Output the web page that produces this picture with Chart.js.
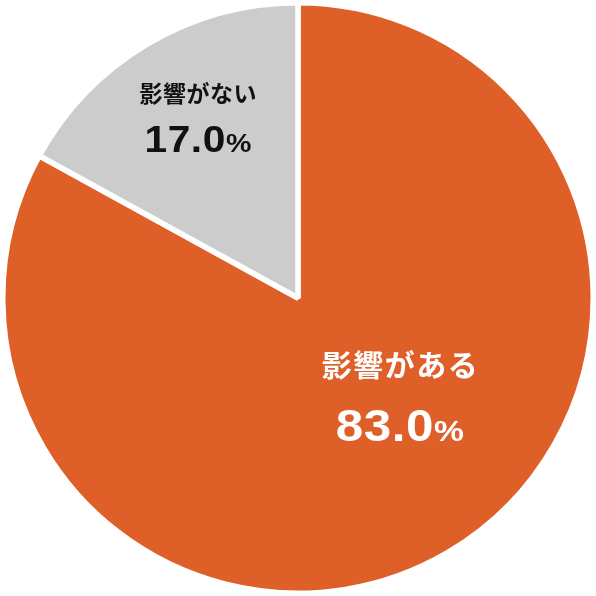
<!DOCTYPE html>
<html>
<head>
<meta charset="utf-8">
<script src="https://cdn.jsdelivr.net/npm/chart.js@4.4.1/dist/chart.umd.min.js"></script>
<style>
html,body{margin:0;padding:0;background:#fff;}
#wrap{width:596px;height:596px;}
</style>
</head>
<body>
<div id="wrap"><canvas id="c" width="596" height="596"></canvas></div>
<script>
const categories = ['影響がある', '影響がない'];
const values = [83.0, 17.0];
const colors = ['#DF5F28', '#CCCCCC'];
const textColors = ['#FFFFFF', '#111111'];

// draw runs [{text, font}] with letter spacing and horizontal scale, centered at x, baseline y
function drawRuns(ctx, runs, x, y, spacing, scaleX) {
  const pieces = [];
  runs.forEach(run => {
    ctx.font = run.font;
    for (const ch of run.text) {
      pieces.push({ ch, font: run.font, w: ctx.measureText(ch).width });
    }
  });
  let total = 0;
  pieces.forEach((p, i) => { total += p.w + (i < pieces.length - 1 ? spacing : 0); });
  ctx.save();
  ctx.translate(x, y);
  ctx.scale(scaleX, 1);
  let cx = -total / 2;
  ctx.textAlign = 'left';
  pieces.forEach(p => {
    ctx.font = p.font;
    ctx.fillText(p.ch, cx, 0);
    cx += p.w + spacing;
  });
  ctx.restore();
}

const labelPlugin = {
  id: 'sliceLabels',
  afterDatasetsDraw(chart, args, opts) {
    const ctx = chart.ctx;
    const meta = chart.getDatasetMeta(0);
    meta.data.forEach((arc, i) => {
      const p = opts.items[i];
      const r = arc.outerRadius;
      const x = arc.x + p.dx * r;
      const yName = arc.y + p.nameDy * r;
      const yVal = arc.y + p.valDy * r;
      ctx.save();
      ctx.fillStyle = textColors[i];
      ctx.textBaseline = 'middle';
      drawRuns(ctx, [{ text: categories[i], font: 'bold ' + p.nameSize + 'px "Noto Sans CJK JP", sans-serif' }],
        x, yName, p.nameSpacing, 1);
      ctx.textBaseline = 'alphabetic';
      const base = yVal + p.numSize * 0.358;
      drawRuns(ctx, [
        { text: values[i].toFixed(1), font: 'bold ' + p.numSize + 'px "Liberation Sans", Arial, sans-serif' },
        { text: '%', font: 'bold ' + p.pctSize + 'px "Liberation Sans", Arial, sans-serif' }
      ], x, base, p.numSpacing, p.numScaleX);
      ctx.restore();
    });
  }
};

new Chart(document.getElementById('c'), {
  type: 'pie',
  data: {
    labels: categories,
    datasets: [{
      data: values,
      backgroundColor: colors,
      borderColor: '#FFFFFF',
      borderWidth: 5.5
    }]
  },
  options: {
    responsive: false,
    animation: false,
    events: [],
    layout: { padding: 0 },
    plugins: {
      legend: { display: false },
      tooltip: { enabled: false },
      sliceLabels: {
        items: [
          { dx: 0.345, nameDy: 0.226, valDy: 0.432, nameSize: 30, nameSpacing: 1.5, numSize: 44, pctSize: 30, numSpacing: 0.5, numScaleX: 1.12 },
          { dx: -0.339, nameDy: -0.692, valDy: -0.541, nameSize: 23, nameSpacing: 0.5, numSize: 37, pctSize: 26, numSpacing: 0.5, numScaleX: 1.1 }
        ]
      }
    }
  },
  plugins: [labelPlugin]
});
</script>
</body>
</html>
